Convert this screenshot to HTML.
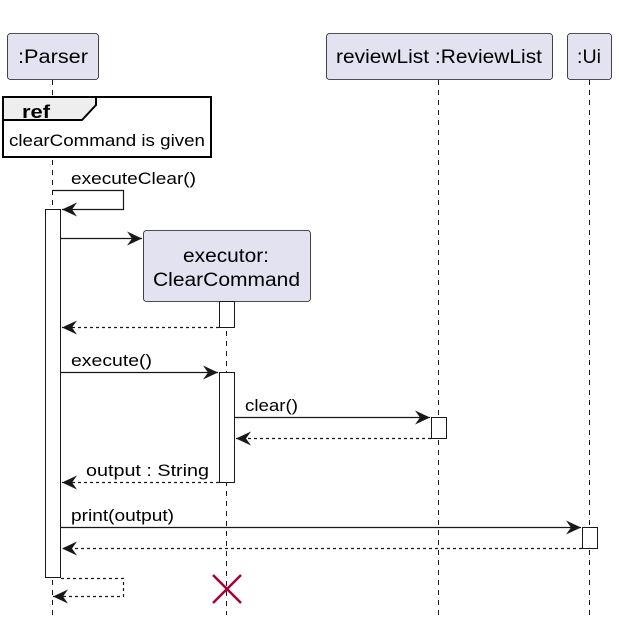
<!DOCTYPE html>
<html><head><meta charset="utf-8"><style>
html,body{margin:0;padding:0;background:#fff;}
svg{display:block;}
text{font-family:"Liberation Sans",sans-serif;fill:#000;}
</style></head><body>
<svg width="619" height="625" viewBox="0 0 619 625" xmlns="http://www.w3.org/2000/svg">
<defs>
<marker id="a" markerWidth="16" markerHeight="14" refX="15" refY="7" orient="auto" markerUnits="userSpaceOnUse">
<path d="M0,0 L15,7 L0,14 L5,7 Z" fill="#181818"/>
</marker>
</defs>
<g stroke="#181818" stroke-width="1" stroke-dasharray="5,5">
<line x1="52.5" y1="80" x2="52.5" y2="615"/>
<line x1="226.5" y1="301" x2="226.5" y2="615"/>
<line x1="438.5" y1="80" x2="438.5" y2="615"/>
<line x1="589.5" y1="80" x2="589.5" y2="615"/>
</g>
<g fill="#E2E2F0" stroke="#181818" stroke-width="0.8">
<rect x="7.5" y="33.5" width="91" height="46" rx="3"/>
<rect x="326.5" y="33.5" width="226" height="46" rx="3"/>
<rect x="567.5" y="33.5" width="44" height="46" rx="3"/>
<rect x="143.5" y="230.5" width="167" height="71" rx="3"/>
</g>
<g font-size="19" lengthAdjust="spacingAndGlyphs">
<text x="18" y="63" textLength="70" lengthAdjust="spacingAndGlyphs">:Parser</text>
<text x="336" y="63" textLength="206" lengthAdjust="spacingAndGlyphs">reviewList :ReviewList</text>
<text x="577" y="63" textLength="24" lengthAdjust="spacingAndGlyphs">:Ui</text>
<text x="183" y="262" textLength="86" lengthAdjust="spacingAndGlyphs">executor:</text>
<text x="153" y="286" textLength="147" lengthAdjust="spacingAndGlyphs">ClearCommand</text>
</g>
<rect x="3" y="97" width="208" height="60" fill="#fff" stroke="#000" stroke-width="2"/>
<path d="M3,97 L96,97 L96,105 L82,120 L3,120 Z" fill="#eee" stroke="#000" stroke-width="2"/>
<text x="22" y="118" font-size="18" font-weight="bold" textLength="28" lengthAdjust="spacingAndGlyphs">ref</text>
<text x="9" y="146" font-size="17" textLength="196" lengthAdjust="spacingAndGlyphs">clearCommand is given</text>
<g fill="#fff" stroke="#181818" stroke-width="1">
<rect x="45.5" y="209.5" width="15" height="368"/>
<rect x="219.5" y="301.5" width="15" height="26"/>
<rect x="219.5" y="372.5" width="15" height="110"/>
<rect x="431.5" y="417.5" width="15" height="21"/>
<rect x="582.5" y="527.5" width="15" height="21"/>
</g>
<g stroke="#181818" stroke-width="1.2" fill="none">
<polyline points="52,190.5 123.5,190.5 123.5,209.5 62,209.5" marker-end="url(#a)"/>
<line x1="61" y1="238.5" x2="142" y2="238.5" marker-end="url(#a)"/>
<line x1="61" y1="372.5" x2="218" y2="372.5" marker-end="url(#a)"/>
<line x1="235" y1="417.5" x2="430" y2="417.5" marker-end="url(#a)"/>
<line x1="61" y1="527.5" x2="581" y2="527.5" marker-end="url(#a)"/>
<g stroke-dasharray="3,3">
<line x1="219" y1="327.5" x2="62" y2="327.5" marker-end="url(#a)"/>
<line x1="431" y1="438.5" x2="236" y2="438.5" marker-end="url(#a)"/>
<line x1="219" y1="482.5" x2="62" y2="482.5" marker-end="url(#a)"/>
<line x1="582" y1="548.5" x2="62" y2="548.5" marker-end="url(#a)"/>
<polyline points="61,578.5 123.5,578.5 123.5,596.5 53,596.5" marker-end="url(#a)"/>
</g>
</g>
<g font-size="17">
<text x="71" y="184" textLength="125" lengthAdjust="spacingAndGlyphs">executeClear()</text>
<text x="71" y="366" textLength="81" lengthAdjust="spacingAndGlyphs">execute()</text>
<text x="245" y="411" textLength="53" lengthAdjust="spacingAndGlyphs">clear()</text>
<text x="86" y="476" textLength="123" lengthAdjust="spacingAndGlyphs">output : String</text>
<text x="71" y="521" textLength="103" lengthAdjust="spacingAndGlyphs">print(output)</text>
</g>
<g stroke="#A80036" stroke-width="2.5">
<line x1="213" y1="575" x2="241" y2="603"/>
<line x1="241" y1="575" x2="213" y2="603"/>
</g>
</svg>
</body></html>
